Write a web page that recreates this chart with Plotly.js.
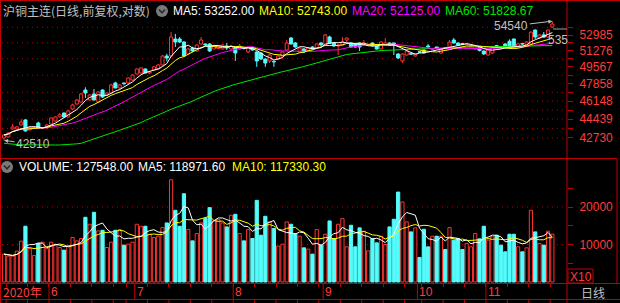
<!DOCTYPE html>
<html><head><meta charset="utf-8">
<script src="https://cdn.plot.ly/plotly-3.0.1.min.js"></script>
<style>html,body{margin:0;padding:0;background:#000;}#chart{width:620px;height:303px;}</style>
</head><body><div id="chart"></div>
<script>
// ---------- data ----------
const opens = [42730,42812,43533,43530,43900,44360,43450,43650,44080,43600,
43620,43990,44267,44650,45014,44639,45392,45868,46061,47230,
46254,46837,46061,47230,46740,46935,47927,47428,47927,47927,
48228,48837,48939,49350,48940,49247,49350,49765,50709,50709,
52543,52543,52216,50922,51565,51242,51997,51997,51997,51458,
51500,51458,51781,51458,51565,51458,51600,51135,51565,51135,
51028,50392,50183,50150,50392,50709,51350,52654,52107,51135,
51458,51242,51673,51565,52107,51889,52764,52107,51781,51889,
52434,52107,51997,52107,51889,51860,52107,51781,51458,51889,
52107,52107,50922,50183,50815,50960,50709,51170,51350,51781,
51400,51673,51028,51600,51673,52434,52107,52050,51940,51750,
51450,51600,51242,50815,51028,51830,51720,52000,52300,52543,
51673,52040,51889,51997,53542,52654,53000,52764,53878];
const highs = [43050,43250,43990,43800,44439,44450,43800,43800,44200,43700,
44000,44600,44700,45000,45050,45300,45900,46350,46950,47500,
46800,47330,47100,47300,47000,47850,48050,47800,47950,48500,
48800,49400,49500,49400,49150,49650,49850,50800,50950,53318,
53100,52764,52300,51600,51700,51950,52764,52050,52100,51850,
51900,51950,52107,51850,51650,52000,51650,51750,51700,51200,
51100,50450,50900,50250,50800,51200,52434,52764,52200,51650,
51550,51650,51750,52050,52200,53100,52900,52150,51997,52764,
52700,52200,52050,52150,52434,51950,52150,51850,52300,52654,
52150,52150,51000,51000,51300,51000,51000,51200,51400,51997,
51500,51700,51550,51650,52434,52654,52150,52100,52050,51900,
51560,51650,51300,51400,51700,51900,51760,52100,52500,52600,
52100,52100,52300,53400,53600,53100,53318,53600,54540];
const lows = [42510,42760,43450,43450,43850,43300,43400,43600,43560,43560,
43550,43950,44200,44600,44600,44600,45300,45800,46000,46450,
46200,46200,46000,46450,46650,46900,47400,47350,47700,47850,
48150,48800,48900,48900,48800,49200,49300,49700,50150,50600,
51674,52100,50650,50850,51150,51200,51950,51800,51150,51400,
51450,51400,51350,51400,50183,51400,51400,51050,51300,49567,
50300,49567,49973,49567,50300,50650,51300,51950,51600,51050,
51050,51200,51400,51500,51800,51850,52050,51700,50815,51800,
52216,51600,51600,51242,51850,51800,51750,51400,51400,51850,
51850,50815,50400,49973,50750,50850,50650,51050,50950,51600,
51350,51500,50950,51450,51600,52050,51850,51900,51900,51700,
51400,51200,50850,50750,50950,51650,51600,51550,51550,51600,
51600,51900,51850,51950,52543,52600,52700,52700,53800];
const closes = [42990,43171,43716,43720,44175,43352,43700,43720,43620,43660,
43900,44546,44639,44850,44639,45202,45773,46254,46837,46935,
46740,46254,47030,46545,46935,47727,47428,47727,47860,48430,
48735,49350,49460,48939,49040,49567,49765,50709,50498,52764,
52216,52216,50709,51458,51242,51889,52434,51889,51242,51781,
51781,51889,51565,51781,51028,51781,51520,51673,51350,50183,
50392,49973,50815,50078,50709,51135,52107,51997,51673,51565,
51135,51565,51458,51997,51889,52985,52107,51781,51889,52216,
52654,51673,51673,51673,52107,51900,51781,51458,52216,52107,
51889,51889,50498,50922,51242,50900,50922,51110,51028,51673,
51460,51565,51458,51500,52216,52107,51889,51960,51997,51800,
51500,51300,50922,51350,51600,51730,51673,51600,51600,51673,
52000,51997,52216,53300,52764,52985,52750,53542,54217];
// MA60 line as drawn (history before the window is not visible)
const ma60 = [42250,42200,42170,42140,42120,42110,42103,42100,42100,42100,
42100,42100,42100,42100,42110,42130,42160,42200,42250,42370,
42500,42640,42785,42910,43040,43160,43288,43420,43550,43680,
43807,43950,44120,44320,44480,44640,44820,45000,45180,45363,
45510,45650,45800,45935,46140,46340,46540,46740,46910,47080,
47240,47400,47530,47660,47800,47920,48030,48140,48260,48380,
48500,48610,48735,48850,48960,49073,49170,49260,49360,49480,
49610,49730,49860,49990,50120,50250,50390,50530,50670,50800,
50870,50930,50990,51050,51110,51160,51210,51260,51290,51310,
51330,51350,51380,51410,51440,51470,51490,51520,51540,51555,
51570,51580,51590,51600,51610,51620,51630,51640,51650,51660,
51670,51680,51690,51700,51710,51720,51730,51740,51750,51765,
51780,51790,51800,51808,51813,51818,51822,51825,51829];
// volume in units of 10 lots (axis "X10")
const volumes = [7434,6900,6900,8230,10885,14870,8940,7080,10270,10620,
8940,10620,9820,9200,8500,9650,11860,10970,11590,17260,
15400,18590,13630,13800,9200,10620,13800,13980,9820,10090,
10620,15400,14870,14870,12740,11860,12210,14510,15750,27260,
19120,14870,23540,13980,10970,12920,15750,16900,19820,16280,
16640,15750,14690,17790,18050,12920,10970,13980,11590,21770,
12480,17520,16020,14250,9560,10090,16020,15400,12920,12210,
9110,8760,7430,13980,9820,12740,16280,11590,15400,16900,
9380,15130,9380,14430,13540,8320,11590,10440,12210,10000,
14690,16730,23980,21330,16020,13360,14430,6550,14070,9380,
12210,12210,12210,8670,14510,11150,11590,8670,10270,9380,
12920,11500,14870,11150,12040,12480,9820,8050,12740,12740,
9380,8050,9110,19120,13360,10270,9820,13540,12755];
const yearLabel = '2020年';
const monthLabels = ['6','7','8','9','10','11'];
const monthStarts = [11,31,54,75,97,113];
const weekStarts = [1,6,11,16,21,26,29,34,39,44,49,54,59,64,69,74,79,84,89,94,98,103,108,113,118,123,128];
const priceLabels = [52985,51276,49567,47858,46148,44439,42730];
const priceGrid = [53840,52131,50422,48713,47003,46148,45294,44439,43585,42730];
const volLabels = [10000,20000];
const volTicks = [5000,10000,15000,20000,25000];
const titleText = '沪铜主连(日线,前复权,对数)';
const maTexts = ['MA5: 53252.00','MA10: 52743.00','MA20: 52125.00','MA60: 51828.67'];
const volTexts = ['VOLUME: 127548.00','MA5: 118971.60','MA10: 117330.30'];
const lastTag = '535';
const periodText = '日线';
const scaleText = 'X10';

// ---------- styling / geometry ----------
const RED='#ff3232', CYAN='#54fcfc', FRAME='#c00000', GRID='#b00000', AXT='#ff3c3c', GREY='#c0c0c0';
const WHITE='#ffffff', YEL='#ffff00', MAG='#ff00ff', GRN='#00e600';
const XR=[-0.47,131.42];
const PL=2, PR=567, PB=284, PW=PR-PL;
const fx = v => (v-PL)/PW;
const fy = v => (PB-v)/PB;
const ix = i => PL + (i-XR[0])/(XR[1]-XR[0])*PW;

const n = closes.length;
const idx = closes.map((_,i)=>i);
function sma(a,p){return a.map((_,i)=>{const s=Math.max(0,i-p+1);let t=0;for(let k=s;k<=i;k++)t+=a[k];return t/(i-s+1);});}
const ma5=sma(closes,5), ma10=sma(closes,10), ma20=sma(closes,20);
const vma5=sma(volumes,5), vma10=sma(volumes,10);
const up = idx.filter(i=>closes[i]>=opens[i]);
const dn = idx.filter(i=>closes[i]<opens[i]);

function body(ids, fill, line){
  return {type:'bar', x:ids, base:ids.map(i=>Math.min(opens[i],closes[i])),
    y:ids.map(i=>Math.abs(closes[i]-opens[i])), width:0.72,
    marker:{color:fill, line:{color:line,width:1}}, xaxis:'x', yaxis:'y', hoverinfo:'skip'};
}
function wick(ids, color){
  const xs=[], ys=[];
  ids.forEach(i=>{const t=Math.max(opens[i],closes[i]), b=Math.min(opens[i],closes[i]);
    xs.push(i,i,null,i,i,null); ys.push(highs[i],t,null,b,lows[i],null);});
  return {type:'scatter', mode:'lines', x:xs, y:ys, line:{color,width:1}, xaxis:'x', yaxis:'y', hoverinfo:'skip'};
}
function vbar(ids, fill, line){
  return {type:'bar', x:ids, y:ids.map(i=>volumes[i]), width:0.75,
    marker:{color:fill, line:{color:line,width:1}}, xaxis:'x', yaxis:'y2', hoverinfo:'skip'};
}
function line(y, color, ya){return {type:'scatter', mode:'lines', x:idx, y, line:{color,width:1}, xaxis:'x', yaxis:ya, hoverinfo:'skip'};}

const traces = [
  body(up,'#000000',RED), body(dn,CYAN,CYAN),
  vbar(up,'#000000',RED), vbar(dn,CYAN,CYAN),
  wick(up,RED), wick(dn,CYAN),
  line(ma60,GRN,'y'), line(ma20,MAG,'y'), line(ma10,YEL,'y'), line(ma5,WHITE,'y'),
  line(vma10,YEL,'y2'), line(vma5,WHITE,'y2')
];

// ---------- shapes ----------
const shapes = [];
function hl(y,x0,x1,c,extra){shapes.push(Object.assign({type:'line',xref:'paper',yref:'paper',x0:fx(x0),x1:fx(x1),y0:fy(y),y1:fy(y),line:{color:c,width:1}},extra||{}));}
function vl(x,y0,y1,c){shapes.push({type:'line',xref:'paper',yref:'paper',x0:fx(x),x1:fx(x),y0:fy(y0),y1:fy(y1),line:{color:c,width:1}});}
priceGrid.forEach(v=>shapes.push({type:'line',layer:'below',xref:'paper',x0:0,x1:1,yref:'y',y0:v,y1:v,line:{color:GRID,width:1,dash:'1px,4px'}}));
volLabels.forEach(v=>shapes.push({type:'line',layer:'below',xref:'paper',x0:0,x1:1,yref:'y2',y0:v,y1:v,line:{color:GRID,width:1,dash:'1px,4px'}}));
hl(0.5,0,620,FRAME); vl(0.5,0,303,FRAME); vl(567,0,303,FRAME);
hl(158.5,0,617,FRAME); vl(617,158.5,283.5,FRAME);
hl(283.5,0,620,FRAME); hl(299.5,0,620,FRAME);
monthStarts.forEach(m=>vl(ix(m-0.5),283.5,299.5,FRAME));
weekStarts.forEach(w=>vl(ix(w-0.5),299.5,303,FRAME));
shapes.push({type:'rect',xref:'paper',yref:'paper',x0:fx(568),x1:fx(593),y0:fy(283),y1:fy(269),line:{color:FRAME,width:1}});
hl(29,553,567,'#a0a0a0');
function icon(cx,cy){
  shapes.push({type:'circle',xref:'paper',yref:'paper',x0:fx(cx-6),x1:fx(cx+6),y0:fy(cy+6),y1:fy(cy-6),fillcolor:'#7a7a7a',line:{width:0}});
  shapes.push({type:'path',xref:'paper',yref:'paper',path:`M ${fx(cx-3)} ${fy(cy-1.5)} L ${fx(cx)} ${fy(cy+1.8)} L ${fx(cx+3)} ${fy(cy-1.5)}`,line:{color:'#2a2a2a',width:1.5}});
}
icon(162,11); icon(7,167);

// ---------- annotations ----------
const ann = [];
function tx(text,x,y,color,opt){ann.push(Object.assign({xref:'paper',yref:'paper',x:fx(x),y:fy(y),xanchor:'left',yanchor:'middle',text,showarrow:false,borderpad:0,font:{family:'Liberation Sans, Arial',size:12,color}},opt||{}));}
tx(titleText,2,11,GREY,{font:{family:'Noto Sans CJK SC',size:12,color:GREY}});
[[172,WHITE],[258,YEL],[351,MAG],[444,GRN]].forEach((p,k)=>tx(maTexts[k],p[0],11,p[1]));
[[18,WHITE],[137,WHITE],[231,YEL]].forEach((p,k)=>tx(volTexts[k],p[0],167,p[1]));
tx(yearLabel,2,291.5,AXT,{font:{family:'Noto Sans CJK SC',size:12,color:AXT}});
monthStarts.forEach((m,k)=>ann.push({xref:'x',yref:'paper',x:m-0.5,y:fy(291.5),xanchor:'left',yanchor:'middle',text:monthLabels[k],showarrow:false,borderpad:0,xshift:1,font:{family:'Liberation Sans, Arial',size:12,color:AXT}}));
tx(periodText,580,292,GREY,{font:{family:'Noto Sans CJK SC',size:12,color:GREY}});
tx(scaleText,569.5,276.5,AXT);
tx(lastTag,547,40,GREY);
// extreme labels
let iMin=0,iMax=0; idx.forEach(i=>{if(lows[i]<lows[iMin])iMin=i; if(highs[i]>highs[iMax])iMax=i;});
ann.push({xref:'x',yref:'y',x:iMin,y:Math.log10(lows[iMin]),text:String(lows[iMin]),showarrow:true,ax:29,ay:4,arrowhead:2,arrowsize:0.8,arrowwidth:1,arrowcolor:GREY,standoff:0,font:{family:'Liberation Sans, Arial',size:12,color:GREY}});
ann.push({xref:'x',yref:'y',x:iMax,y:Math.log10(highs[iMax]),text:String(highs[iMax]),showarrow:true,ax:-41,ay:5,arrowhead:2,arrowsize:0.8,arrowwidth:1,arrowcolor:GREY,standoff:0,font:{family:'Liberation Sans, Arial',size:12,color:GREY}});

// ---------- axes ----------
const pTicks = priceGrid.concat(priceLabels).filter((v,i,a)=>a.indexOf(v)===i);
const layout = {
  width:620, height:303, margin:{l:PL,r:620-PR,t:0,b:303-PB},
  paper_bgcolor:'#000', plot_bgcolor:'#000', showlegend:false, hovermode:false,
  barmode:'overlay', font:{family:'Liberation Sans, Arial',size:12,color:AXT},
  xaxis:{domain:[0,1], range:XR, anchor:'y2', showticklabels:false, showgrid:false, zeroline:false, showline:false,
    tickmode:'array', tickvals:weekStarts.map(w=>w-0.5), ticks:'outside', ticklen:3, tickcolor:FRAME, fixedrange:true},
  yaxis:{type:'log', domain:[fy(157),1], range:[Math.log10(41056),Math.log10(57007)], side:'right', anchor:'x',
    tickmode:'array', tickvals:pTicks, ticktext:pTicks.map(v=>priceLabels.includes(v)?String(v):''),
    ticks:'outside', ticklen:5, tickcolor:FRAME, ticklabelstandoff:4, showgrid:false, zeroline:false, showline:false,
    tickfont:{family:'Liberation Sans, Arial',size:12,color:AXT}, fixedrange:true},
  yaxis2:{domain:[fy(283),fy(159)], range:[-267,32800], side:'right', anchor:'x',
    tickmode:'array', tickvals:volTicks, ticktext:volTicks.map(v=>volLabels.includes(v)?String(v):''),
    ticks:'outside', ticklen:5, tickcolor:FRAME, ticklabelstandoff:4, showgrid:false, zeroline:false, showline:false,
    tickfont:{family:'Liberation Sans, Arial',size:12,color:AXT}, fixedrange:true},
  shapes, annotations:ann
};
Plotly.newPlot('chart', traces, layout, {staticPlot:true, displayModeBar:false});
</script></body></html>
